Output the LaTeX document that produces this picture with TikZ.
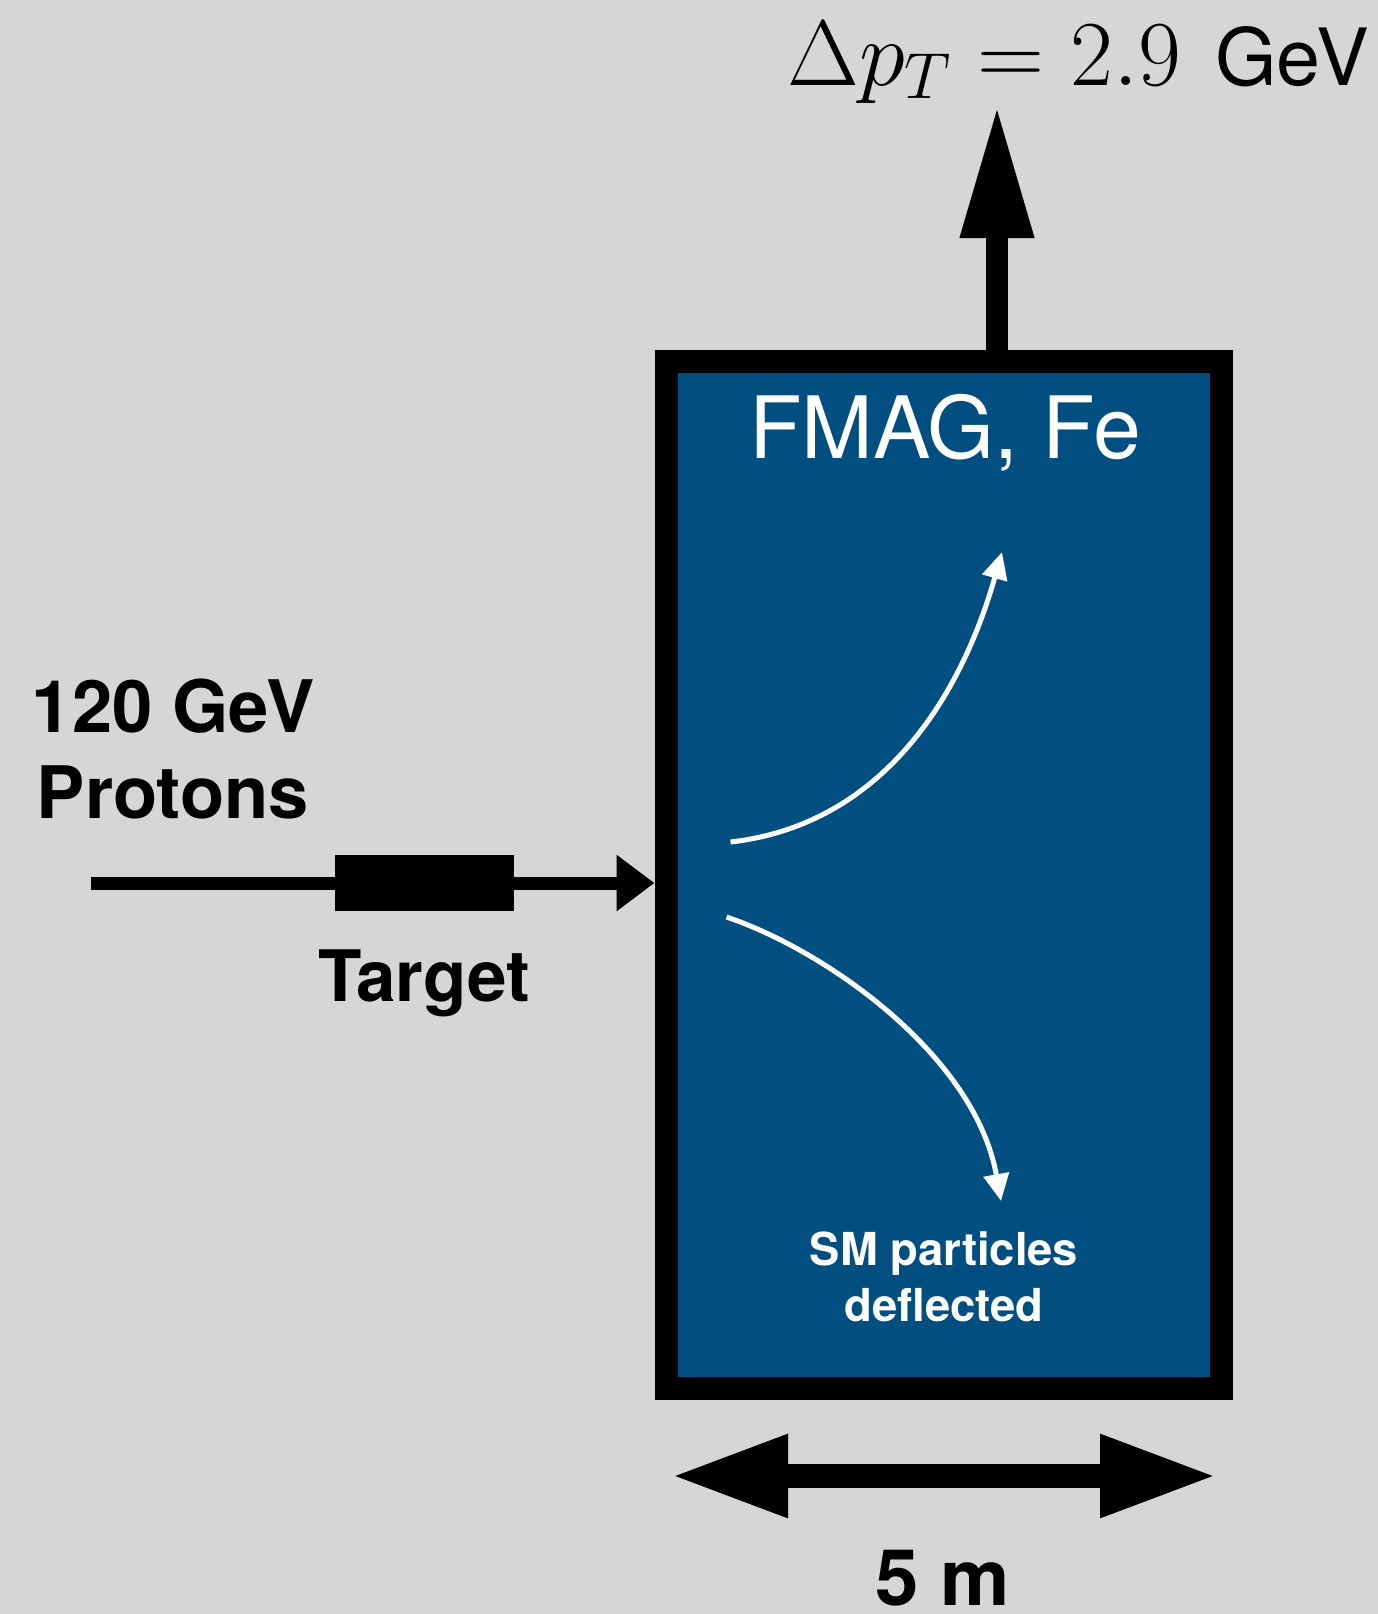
\RequirePackage{fix-cm}
\documentclass[tikz,border=0pt]{standalone}
\usepackage[no-math]{fontspec}
\setmainfont{TeX Gyre Heros}
\usetikzlibrary{arrows.meta}
\definecolor{bggray}{RGB}{214,214,214}
\definecolor{fmagblue}{RGB}{1,79,128}
\tikzset{
  magnetbox/.style={draw=black, fill=fmagblue, line width=11.5pt,
    minimum width=277.75pt, minimum height=513.5pt, inner sep=0pt},
  targetbox/.style={fill=black, minimum width=89.5pt, minimum height=28pt, inner sep=0pt},
  beam/.style={line width=6.5pt, -{Triangle[length=19pt,width=27pt]}},
  kick/.style={line width=11.3pt, -{Triangle[length=67pt,width=34pt]}},
  span/.style={line width=12pt, {Triangle[length=58.5pt,width=38.5pt]}-{Triangle[length=58.5pt,width=38.5pt]}},
  track/.style={white, line width=2.5pt, -{Triangle[length=13.5pt,width=12.5pt]}},
  darklabel/.style={font=\bfseries\fontsize{36.2}{43}\selectfont, align=center, inner sep=0pt, anchor=base},
  whitelabel/.style={text=white, inner sep=0pt, anchor=base, align=center},
}
\begin{document}
\begin{tikzpicture}[x=0.5pt, y=-0.5pt]
  % canvas
  \fill[bggray] (0,0) rectangle (1378,1614);
  \useasboundingbox (0,0) rectangle (1378,1614);

  % iron magnet block
  \node[magnetbox] (magnet) at (943.75,875) {};

  % incoming proton beam through the target
  \coordinate (beamsrc) at (90.6,883);
  \draw[beam] (beamsrc) -- (magnet.west |- beamsrc);
  \node[targetbox] (target) at (424,883) {};

  % transverse momentum kick
  \coordinate (kicktip) at (997,104);
  \draw[kick] (kicktip |- magnet.north) -- (kicktip);

  % length of the magnet
  \coordinate (lenL) at (671,1476);
  \coordinate (lenR) at (1217,1476);
  \draw[span] (lenL) -- (lenR);

  % deflected tracks
  \coordinate (upA) at (730.5,842);
  \coordinate (upB) at (1002,552);
  \coordinate (dnA) at (726.5,917);
  \coordinate (dnB) at (1001,1201);
  \draw[track] (upA) .. controls (880,825) and (960,700) .. (upB);
  \draw[track] (dnA) .. controls (825,950) and (975,1055) .. (dnB);

  % labels
  \node[anchor=base west, inner sep=0pt, font=\fontsize{46.5}{56}\selectfont] (dpt) at (787,85)
    {$\Delta p_T = 2.9$\hspace{17pt}{\fontsize{39.5}{46}\selectfont GeV}};
  \node[darklabel] (beamlbl) at (173,818) {120 GeV\\Protons};
  \node[darklabel, font=\bfseries\fontsize{35.5}{42}\selectfont] (targetlbl) at (424,1001) {Target};
  \node[whitelabel, font=\fontsize{43}{50}\selectfont] (magnetlbl) at (945,458) {FMAG, Fe};
  \node[whitelabel, font=\bfseries\fontsize{22.7}{28}\selectfont] (smlbl) at (944,1321) {SM particles\\deflected};
  \node[darklabel, font=\bfseries\fontsize{39}{46}\selectfont] (lenlbl) at (943,1605) {5 m};
\end{tikzpicture}
\end{document}
